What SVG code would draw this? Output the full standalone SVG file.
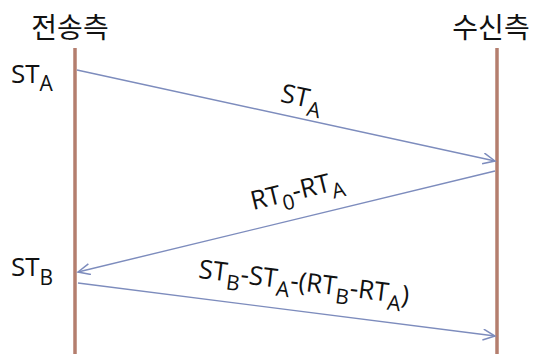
<svg xmlns="http://www.w3.org/2000/svg" width="549" height="354" viewBox="0 0 549 354">
  <defs>
    <style>
      .hdr { font-family: "Noto Sans CJK KR", "Noto Sans", sans-serif; font-size: 28px; fill: #111; text-anchor: middle; }
      .lbl { font-family: "Open Sans", "Noto Sans", sans-serif; font-size: 26px; fill: #111; }
      .sub { font-size: 21px; }
      .life { stroke: #b47e6e; stroke-width: 3.5; fill: none; }
      .msg { stroke: #7d8cbd; stroke-width: 1.4; fill: none; marker-end: url(#arr); }
    </style>
    <marker id="arr" markerUnits="userSpaceOnUse" markerWidth="16" markerHeight="14" refX="13" refY="6" orient="auto">
      <path d="M1,0.5 L13,6 L1,11.5" fill="none" stroke="#7d8cbd" stroke-width="1.5"/>
    </marker>
  </defs>
  <rect width="549" height="354" fill="#fff"/>

  <g id="sender">
    <text class="hdr" x="70" y="38">전송측</text>
    <line class="life" x1="75" y1="48" x2="75" y2="354"/>
    <text class="lbl" x="11" y="83">ST<tspan class="sub" dy="8">A</tspan></text>
    <text class="lbl" x="11" y="276">ST<tspan class="sub" dy="9">B</tspan></text>
  </g>

  <g id="receiver">
    <text class="hdr" x="491" y="38">수신측</text>
    <line class="life" x1="497" y1="48" x2="497" y2="354"/>
  </g>

  <g id="connectors">
    <line class="msg" x1="77" y1="70" x2="495" y2="161"/>
    <line class="msg" x1="495" y1="171" x2="78" y2="272"/>
    <line class="msg" x1="78" y1="283" x2="495" y2="336"/>
    <text class="lbl" text-anchor="middle" transform="translate(300,106) rotate(12.2)">ST<tspan class="sub" dy="8">A</tspan></text>
    <text class="lbl" text-anchor="middle" transform="translate(299,199) rotate(-13.6)">RT<tspan class="sub" dy="8">0</tspan><tspan dy="-8">-RT</tspan><tspan class="sub" dy="8">A</tspan></text>
    <text class="lbl" text-anchor="middle" transform="translate(303,291) rotate(7.2)">ST<tspan class="sub" dy="8">B</tspan><tspan dy="-8">-ST</tspan><tspan class="sub" dy="8">A</tspan><tspan dy="-8">-(RT</tspan><tspan class="sub" dy="8">B</tspan><tspan dy="-8">-RT</tspan><tspan class="sub" dy="8">A</tspan><tspan dy="-8">)</tspan></text>
  </g>
</svg>
